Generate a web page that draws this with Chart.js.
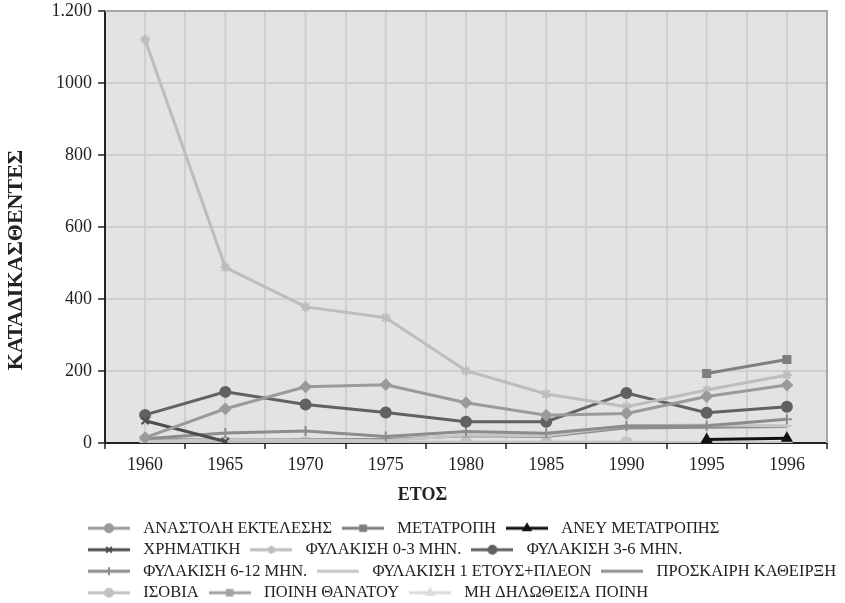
<!DOCTYPE html>
<html>
<head>
<meta charset="utf-8">
<script src="https://cdn.jsdelivr.net/npm/chart.js@4.4.1/dist/chart.umd.min.js"></script>
<style>
  html, body { margin: 0; padding: 0; background: #fff; }
</style>
</head>
<body>
<canvas id="convictionsChart" width="845" height="603"></canvas>
<script>
const years = ['1960', '1965', '1970', '1975', '1980', '1985', '1990', '1995', '1996'];

const anastoli = [15, 95, 156, 162, 112, 77, 82, 129, 161];
const metatropi = [null, null, null, null, null, null, null, 193, 232];
const anevMetatropis = [null, null, null, null, null, null, null, 10, 13];
const xrimatiki = [62, 4, null, null, null, null, null, null, null];
const fylakisi03 = [1120, 488, 378, 348, 201, 136, 101, 147, 189];
const fylakisi36 = [78, 142, 107, 85, 59, 59, 139, 84, 101];
const fylakisi612 = [12, 28, 33, 18, 32, 27, 47, 48, 66];
const fylakisi1plus = [5, 8, 8, 6, 22, 20, 48, 50, 48];
const proskairi = [10, 8, 10, 10, 20, 18, 42, 44, 46];
const isovia = [5, 3, 2, 2, 2, 2, 2, 1, 1];
const thanatos = [8, 3, 3, 2, null, null, null, null, null];
const miDilotheisa = [2, 3, 2, 2, 2, 2, 2, null, null];

const yTicks = [0, 200, 400, 600, 800, 1000, 1200];

const serif = "'Liberation Serif', 'Times New Roman', serif";
const gridColor = '#cfcfcf';
const inkColor = '#222';
const legendWrapWidth = 785;

const series = [
  { label: 'ΑΝΑΣΤΟΛΗ ΕΚΤΕΛΕΣΗΣ', data: anastoli, color: '#9a9a9a', style: 'rectRot', legendStyle: 'circle' },
  { label: 'ΜΕΤΑΤΡΟΠΗ', data: metatropi, color: '#7f7f7f', style: 'rect' },
  { label: 'ΑΝΕΥ ΜΕΤΑΤΡΟΠΗΣ', data: anevMetatropis, color: '#111111', style: 'triangle' },
  { label: 'ΧΡΗΜΑΤΙΚΗ', data: xrimatiki, color: '#4d4d4d', style: 'crossRot' },
  { label: 'ΦΥΛΑΚΙΣΗ 0-3 ΜΗΝ.', data: fylakisi03, color: '#bdbdbd', style: 'star' },
  { label: 'ΦΥΛΑΚΙΣΗ 3-6 ΜΗΝ.', data: fylakisi36, color: '#616161', style: 'circle' },
  { label: 'ΦΥΛΑΚΙΣΗ 6-12 ΜΗΝ.', data: fylakisi612, color: '#8c8c8c', style: 'cross' },
  { label: 'ΦΥΛΑΚΙΣΗ 1 ΕΤΟΥΣ+ΠΛΕΟΝ', data: fylakisi1plus, color: '#c6c6c6', style: 'line' },
  { label: 'ΠΡΟΣΚΑΙΡΗ ΚΑΘΕΙΡΞΗ', data: proskairi, color: '#8f8f8f', style: false },
  { label: 'ΙΣΟΒΙΑ', data: isovia, color: '#c2c2c2', style: 'circle' },
  { label: 'ΠΟΙΝΗ ΘΑΝΑΤΟΥ', data: thanatos, color: '#a3a3a3', style: 'rect' },
  { label: 'ΜΗ ΔΗΛΩΘΕΙΣΑ ΠΟΙΝΗ', data: miDilotheisa, color: '#dcdcdc', style: 'triangle' }
];

// small line+marker icons for the legend
function makeIcon(s) {
  const c = document.createElement('canvas');
  c.width = 42;
  c.height = 14;
  const g = c.getContext('2d');
  g.strokeStyle = s.color;
  g.lineWidth = 3;
  g.beginPath();
  g.moveTo(0, 7);
  g.lineTo(42, 7);
  g.stroke();
  const style = s.legendStyle || s.style;
  if (style && Chart.helpers && Chart.helpers.drawPoint) {
    g.fillStyle = s.color;
    g.strokeStyle = s.color;
    g.lineWidth = 2;
    Chart.helpers.drawPoint(g, { pointStyle: style, radius: 4, rotation: 0, borderWidth: 2 }, 21, 7);
  }
  return c;
}

const legendIcons = series.map(makeIcon);

const plotDecor = {
  id: 'plotDecor',
  afterInit(chart) {
    // wrap the legend rows narrower than the canvas so they break like the original
    const lg = chart.legend;
    const baseUpdate = lg.update.bind(lg);
    lg.update = (maxWidth, maxHeight, margins) => baseUpdate(legendWrapWidth, maxHeight, margins);
  },
  afterLayout(chart) {
    const lg = chart.legend;
    lg.left = 78;
    lg.right = 78 + legendWrapWidth;
    lg.top += 8;
    lg.bottom += 8;
  },
  beforeDraw(chart) {
    const { ctx, chartArea: a } = chart;
    ctx.save();
    ctx.fillStyle = '#e3e3e3';
    ctx.fillRect(a.left, a.top, a.right - a.left, a.bottom - a.top);
    ctx.restore();
  },
  beforeDatasetsDraw(chart) {
    const { ctx, chartArea: a, scales: { x } } = chart;
    ctx.save();
    ctx.strokeStyle = gridColor;
    ctx.lineWidth = 2;
    x.ticks.forEach((t, i) => {
      const px = x.getPixelForTick(i);
      ctx.beginPath();
      ctx.moveTo(px, a.top);
      ctx.lineTo(px, a.bottom - 1);
      ctx.stroke();
    });
    ctx.strokeStyle = '#a6a6a6';
    ctx.beginPath();
    ctx.moveTo(a.left, a.top);
    ctx.lineTo(a.right, a.top);
    ctx.lineTo(a.right, a.bottom);
    ctx.stroke();
    ctx.restore();
  },
  afterDraw(chart) {
    const { ctx } = chart;
    ctx.save();
    ctx.fillStyle = inkColor;
    ctx.textAlign = 'center';
    ctx.textBaseline = 'middle';
    // x axis title, centred on the page like the original
    ctx.font = 'bold 18px ' + serif;
    ctx.fillText('ΕΤΟΣ', chart.width / 2, 495);
    // y axis title
    ctx.translate(16, 260);
    ctx.rotate(-Math.PI / 2);
    ctx.font = 'bold 22px ' + serif;
    ctx.fillText('ΚΑΤΑΔΙΚΑΣΘΕΝΤΕΣ', 0, 0);
    ctx.restore();
  }
};

const ctx = document.getElementById('convictionsChart').getContext('2d');
new Chart(ctx, {
  type: 'line',
  data: {
    labels: years,
    datasets: series.map(s => ({
      label: s.label,
      data: s.data,
      borderColor: s.color,
      backgroundColor: s.color,
      borderWidth: 3,
      pointStyle: s.style,
      pointRadius: s.style ? 5 : 0,
      pointBorderWidth: 2,
      tension: 0,
      spanGaps: false
    }))
  },
  options: {
    responsive: false,
    animation: false,
    layout: { padding: { top: 11, right: 18, left: 0, bottom: 0 } },
    plugins: {
      legend: {
        position: 'bottom',
        align: 'start',
        labels: {
          usePointStyle: true,
          pointStyleWidth: 52,
          padding: 5,
          color: inkColor,
          font: { family: serif, size: 16.5 },
          generateLabels(chart) {
            const items = Chart.defaults.plugins.legend.labels.generateLabels(chart);
            items.forEach((it, i) => { it.pointStyle = legendIcons[i]; it.fontColor = inkColor; });
            return items;
          }
        }
      },
      tooltip: { enabled: false }
    },
    scales: {
      x: {
        offset: true,
        grid: { offset: true, color: gridColor, lineWidth: 2, tickColor: inkColor, tickLength: 6, tickWidth: 1.5 },
        border: { color: inkColor, width: 2 },
        ticks: { color: inkColor, padding: 5, font: { family: serif, size: 18 } },
        afterFit(s) { s.height = 64; }
      },
      y: {
        min: 0,
        max: 1200,
        afterBuildTicks(s) { s.ticks = yTicks.map(v => ({ value: v })); },
        grid: { color: gridColor, lineWidth: 2, tickColor: inkColor, tickLength: 7, tickWidth: 1.5 },
        border: { color: inkColor, width: 2 },
        ticks: {
          color: inkColor,
          padding: 6,
          font: { family: serif, size: 18 },
          callback: v => (v === 1200 ? '1.200' : String(v))
        },
        afterFit(s) {
          s.width = 105;
          s.paddingTop = 0;
        }
      }
    }
  },
  plugins: [plotDecor]
});
</script>
</body>
</html>
